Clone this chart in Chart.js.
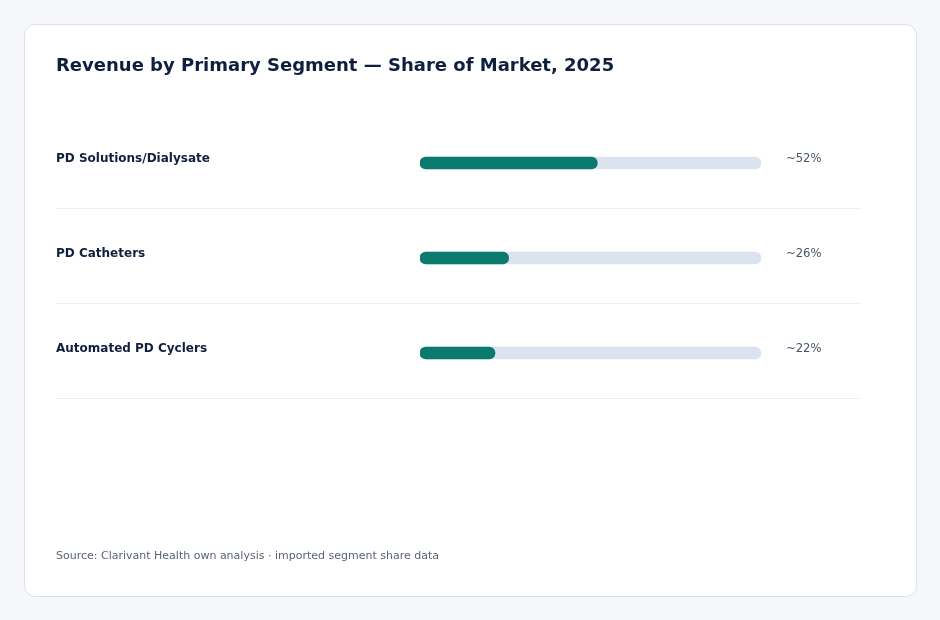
<!DOCTYPE html>
<html>
<head>
<meta charset="utf-8">
<script src="https://cdn.jsdelivr.net/npm/chart.js@4.4.1/dist/chart.umd.min.js"></script>
<style>
    html, body { margin: 0; padding: 0; background: #f5f7fa; }
    .card {
        position: absolute; left: 24px; top: 24px; width: 891px; height: 571px;
        background: #fff; border: 1px solid #dde2e8; border-radius: 11px;
    }
    #chart { position: absolute; left: 0; top: 0; }
</style>
</head>
<body>
<div class="card"></div>
<canvas id="chart" width="940" height="620"></canvas>
<script>
// Segment share data
const segments = ['PD Solutions/Dialysate', 'PD Catheters', 'Automated PD Cyclers'];
const shares = [52, 26, 22];
const shareLabels = ['~52%', '~26%', '~22%'];
const trackMax = 100;

const title = 'Revenue by Primary Segment \u2014 Share of Market, 2025';
const source = 'Source: Clarivant Health own analysis \u00b7 imported segment share data';

const FONT = '"DejaVu Sans", sans-serif';

// Draws titles, row labels, values and separators around the bars
const rowText = {
    id: 'rowText',
    afterDatasetsDraw(chart) {
        const ctx = chart.ctx;
        const y = chart.scales.y;
        ctx.save();
        ctx.textBaseline = 'alphabetic';
        ctx.textAlign = 'left';

        ctx.fillStyle = '#0f1f3d';
        ctx.font = 'bold 18px ' + FONT;
        ctx.fillText(title, 56, 71);

        segments.forEach((name, i) => {
            const cy = y.getPixelForValue(i);
            ctx.fillStyle = '#0f1f3d';
            ctx.font = 'bold 12px ' + FONT;
            ctx.fillText(name, 56, cy - 1);
            ctx.fillStyle = '#4a5568';
            ctx.font = '11.6px ' + FONT;
            ctx.fillText(shareLabels[i], 786, cy - 1);

            const sy = Math.round(cy + 45) + 0.5;
            ctx.strokeStyle = '#edf0f3';
            ctx.lineWidth = 1;
            ctx.beginPath();
            ctx.moveTo(56, sy);
            ctx.lineTo(861, sy);
            ctx.stroke();
        });

        ctx.fillStyle = '#5a6473';
        ctx.font = '11px ' + FONT;
        ctx.fillText(source, 56, 559);
        ctx.restore();
    }
};

new Chart(document.getElementById('chart'), {
    type: 'bar',
    data: {
        labels: segments,
        datasets: [
            {
                data: shares.map(() => trackMax),
                backgroundColor: '#dbe4ee',
                barThickness: 12,
                borderRadius: 6,
                borderSkipped: false,
                grouped: false,
                order: 2
            },
            {
                data: shares,
                backgroundColor: '#0b7a6e',
                barThickness: 12,
                borderRadius: 6,
                borderSkipped: false,
                grouped: false,
                order: 1
            }
        ]
    },
    options: {
        indexAxis: 'y',
        responsive: false,
        animation: false,
        layout: { padding: { left: 420, right: 179, top: 115.5, bottom: 219.5 } },
        plugins: { legend: { display: false }, tooltip: { enabled: false } },
        scales: {
            x: { display: false, min: 0, max: trackMax },
            y: { display: false }
        }
    },
    plugins: [rowText]
});
</script>
</body>
</html>
